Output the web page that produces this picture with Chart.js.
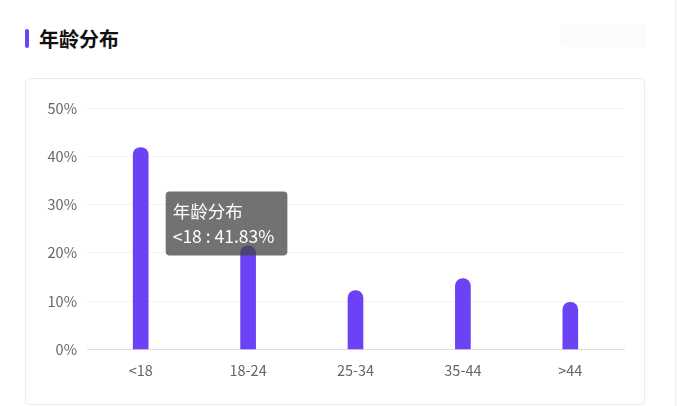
<!DOCTYPE html>
<html>
<head>
<meta charset="utf-8">
<script src="https://cdn.jsdelivr.net/npm/chart.js@4"></script>
<style>
  body { margin: 0; background: #fff; width: 678px; height: 406px; position: relative; overflow: hidden;
         font-family: "Noto Sans CJK SC", "Noto Sans", sans-serif; }
  .bar-mark { position: absolute; left: 25px; top: 29px; width: 4px; height: 19px; background: #6b42f5; border-radius: 2px; }
  .title { position: absolute; left: 39px; top: 25px; font-size: 20px; font-weight: bold; color: #111; line-height: 28px; }
  .ghost { position: absolute; left: 560px; top: 24px; width: 86px; height: 23px; background: #fbfbfb; border-radius: 4px; }
  .edge { position: absolute; left: 675px; top: 0; width: 1px; height: 406px; background: #eee; }
  .card { position: absolute; left: 25px; top: 78px; width: 618px; height: 325px; border: 1px solid #ececec; border-radius: 4px; }
  .card canvas { position: absolute; left: 0; top: 0; }
</style>
</head>
<body>
<div class="bar-mark"></div>
<div class="title">年龄分布</div>
<div class="ghost"></div>
<div class="edge"></div>
<div class="card"><canvas id="ageChart" width="618" height="325"></canvas></div>
<script>
// 数据
const seriesName = '年龄分布';
const ageGroups = ['<18', '18-24', '25-34', '35-44', '>44'];
const agePercent = [41.83, 21.5, 12.2, 14.7, 9.8];
const yTicks = [0, 10, 20, 30, 40, 50];

const fontFamily = '"Noto Sans CJK SC", "Noto Sans", sans-serif';

// 提示框位置：在柱子右下方
Chart.Tooltip.positioners.besideBar = function (elements) {
    if (!elements.length) return false;
    const el = elements[0].element;
    return { x: el.x + 29, y: el.y + 44, xAlign: 'left', yAlign: 'top' };
};

const canvas = document.getElementById('ageChart');
const ctx = canvas.getContext('2d');

const ageChart = new Chart(ctx, {
    type: 'bar',
    data: {
        labels: ageGroups,
        datasets: [{
            label: seriesName,
            data: agePercent,
            backgroundColor: '#6b42f5',
            hoverBackgroundColor: '#6b42f5',
            barThickness: 15,
            borderRadius: { topLeft: 8, topRight: 8, bottomLeft: 0, bottomRight: 0 },
            borderSkipped: 'bottom'
        }]
    },
    options: {
        responsive: false,
        animation: false,
        layout: { padding: { left: 0, right: 20, top: 29, bottom: 21 } },
        plugins: {
            legend: { display: false },
            tooltip: {
                enabled: true,
                position: 'besideBar',
                backgroundColor: 'rgba(70,70,70,0.76)',
                displayColors: false,
                caretSize: 0,
                caretPadding: 0,
                cornerRadius: 4,
                padding: { top: 9, bottom: 9, left: 7, right: 13 },
                titleFont: { family: fontFamily, size: 17.5, weight: 'normal' },
                bodyFont: { family: fontFamily, size: 17.5 },
                titleMarginBottom: 4,
                titleColor: '#fff',
                bodyColor: '#fff',
                callbacks: {
                    title: (items) => items[0].dataset.label,
                    label: (item) => item.label + ' : ' + item.raw.toFixed(2) + '%'
                }
            }
        },
        scales: {
            x: {
                grid: { display: false },
                border: { display: true, color: '#dcdcdc', width: 1 },
                ticks: { color: '#666', padding: 4, font: { family: fontFamily, size: 14.5 } }
            },
            y: {
                min: yTicks[0],
                max: yTicks[yTicks.length - 1],
                afterBuildTicks: (scale) => { scale.ticks = yTicks.map(v => ({ value: v })); },
                afterFit: (scale) => { scale.width = 61; },
                grid: { color: '#f3f3f3', drawTicks: false },
                border: { display: false },
                ticks: {
                    color: '#666',
                    padding: 10,
                    font: { family: fontFamily, size: 14.5 },
                    callback: (v) => v + '%'
                }
            }
        }
    }
});

// 默认显示第一根柱子的提示框
ageChart.tooltip.setActiveElements([{ datasetIndex: 0, index: 0 }], { x: 0, y: 0 });
ageChart.update();
</script>
</body>
</html>
